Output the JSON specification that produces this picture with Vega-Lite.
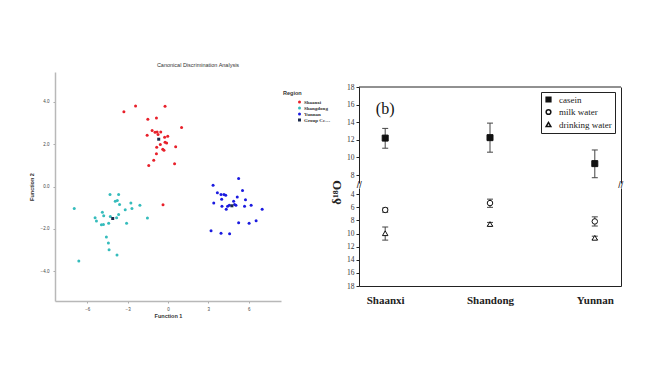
{
  "$schema": "https://vega.github.io/schema/vega-lite/v6.json",
  "background": "white",
  "padding": {"left": 29, "top": 62, "right": 0, "bottom": 0},
  "config": {"view": {"stroke": null}},
  "datasets": {
    "scatter": [
      {"region": "Shaanxi", "f1": -3.28, "f2": 3.53},
      {"region": "Shaanxi", "f1": -2.41, "f2": 3.80},
      {"region": "Shaanxi", "f1": -0.22, "f2": 3.78},
      {"region": "Shaanxi", "f1": -1.50, "f2": 3.17},
      {"region": "Shaanxi", "f1": -0.86, "f2": 3.23},
      {"region": "Shaanxi", "f1": 1.01, "f2": 2.78},
      {"region": "Shaanxi", "f1": -1.18, "f2": 2.64},
      {"region": "Shaanxi", "f1": -0.96, "f2": 2.56},
      {"region": "Shaanxi", "f1": -0.81, "f2": 2.57},
      {"region": "Shaanxi", "f1": -0.54, "f2": 2.57},
      {"region": "Shaanxi", "f1": -1.55, "f2": 2.42},
      {"region": "Shaanxi", "f1": -0.02, "f2": 2.37},
      {"region": "Shaanxi", "f1": -0.25, "f2": 2.32},
      {"region": "Shaanxi", "f1": -0.74, "f2": 2.45},
      {"region": "Shaanxi", "f1": -0.22, "f2": 2.09},
      {"region": "Shaanxi", "f1": -0.10, "f2": 2.05},
      {"region": "Shaanxi", "f1": -0.84, "f2": 1.85},
      {"region": "Shaanxi", "f1": -0.57, "f2": 1.98},
      {"region": "Shaanxi", "f1": -0.39, "f2": 1.76},
      {"region": "Shaanxi", "f1": -0.30, "f2": 1.71},
      {"region": "Shaanxi", "f1": 0.57, "f2": 1.87},
      {"region": "Shaanxi", "f1": -0.86, "f2": 1.54},
      {"region": "Shaanxi", "f1": -1.06, "f2": 1.24},
      {"region": "Shaanxi", "f1": -1.43, "f2": 0.99},
      {"region": "Shaanxi", "f1": 0.49, "f2": 1.07},
      {"region": "Shaanxi", "f1": -0.37, "f2": -0.86},
      {"region": "Shangdong", "f1": -6.97, "f2": -1.04},
      {"region": "Shangdong", "f1": -6.63, "f2": -3.51},
      {"region": "Shangdong", "f1": -5.42, "f2": -1.47},
      {"region": "Shangdong", "f1": -5.32, "f2": -1.63},
      {"region": "Shangdong", "f1": -4.88, "f2": -1.22},
      {"region": "Shangdong", "f1": -4.78, "f2": -1.38},
      {"region": "Shangdong", "f1": -4.95, "f2": -1.80},
      {"region": "Shangdong", "f1": -4.80, "f2": -1.79},
      {"region": "Shangdong", "f1": -4.58, "f2": -2.38},
      {"region": "Shangdong", "f1": -4.43, "f2": -2.67},
      {"region": "Shangdong", "f1": -4.38, "f2": -2.98},
      {"region": "Shangdong", "f1": -4.41, "f2": -1.73},
      {"region": "Shangdong", "f1": -4.29, "f2": -1.41},
      {"region": "Shangdong", "f1": -4.31, "f2": -0.38},
      {"region": "Shangdong", "f1": -3.92, "f2": -0.69},
      {"region": "Shangdong", "f1": -3.77, "f2": -0.66},
      {"region": "Shangdong", "f1": -3.67, "f2": -0.38},
      {"region": "Shangdong", "f1": -3.60, "f2": -0.85},
      {"region": "Shangdong", "f1": -3.79, "f2": -3.23},
      {"region": "Shangdong", "f1": -3.82, "f2": -1.47},
      {"region": "Shangdong", "f1": -3.67, "f2": -1.32},
      {"region": "Shangdong", "f1": -3.18, "f2": -1.10},
      {"region": "Shangdong", "f1": -3.08, "f2": -1.73},
      {"region": "Shangdong", "f1": -2.76, "f2": -0.78},
      {"region": "Shangdong", "f1": -2.68, "f2": -1.04},
      {"region": "Shangdong", "f1": -2.09, "f2": -0.89},
      {"region": "Shangdong", "f1": -1.53, "f2": -1.49},
      {"region": "Yunnan", "f1": 3.35, "f2": 0.06},
      {"region": "Yunnan", "f1": 3.67, "f2": -0.30},
      {"region": "Yunnan", "f1": 3.94, "f2": -0.38},
      {"region": "Yunnan", "f1": 4.16, "f2": -0.38},
      {"region": "Yunnan", "f1": 4.29, "f2": -0.41},
      {"region": "Yunnan", "f1": 5.25, "f2": 0.38},
      {"region": "Yunnan", "f1": 5.54, "f2": -0.19},
      {"region": "Yunnan", "f1": 5.76, "f2": -0.63},
      {"region": "Yunnan", "f1": 5.15, "f2": -0.50},
      {"region": "Yunnan", "f1": 4.88, "f2": -0.69},
      {"region": "Yunnan", "f1": 3.99, "f2": -0.60},
      {"region": "Yunnan", "f1": 3.40, "f2": -0.78},
      {"region": "Yunnan", "f1": 4.01, "f2": -0.93},
      {"region": "Yunnan", "f1": 4.33, "f2": -1.07},
      {"region": "Yunnan", "f1": 4.43, "f2": -0.93},
      {"region": "Yunnan", "f1": 4.56, "f2": -0.88},
      {"region": "Yunnan", "f1": 4.95, "f2": -0.85},
      {"region": "Yunnan", "f1": 5.05, "f2": -0.88},
      {"region": "Yunnan", "f1": 5.69, "f2": -0.93},
      {"region": "Yunnan", "f1": 6.18, "f2": -0.89},
      {"region": "Yunnan", "f1": 7.00, "f2": -1.07},
      {"region": "Yunnan", "f1": 6.55, "f2": -1.62},
      {"region": "Yunnan", "f1": 6.03, "f2": -1.73},
      {"region": "Yunnan", "f1": 5.25, "f2": -1.71},
      {"region": "Yunnan", "f1": 3.20, "f2": -2.09},
      {"region": "Yunnan", "f1": 3.94, "f2": -2.20},
      {"region": "Yunnan", "f1": 4.58, "f2": -2.23},
      {"region": "Group Centroid", "f1": -0.69, "f2": 2.23},
      {"region": "Group Centroid", "f1": -4.11, "f2": -1.51},
      {"region": "Group Centroid", "f1": 4.75, "f2": -0.91}
    ],
    "casein": [
      {"region": "Shaanxi", "series": "casein", "mean": 12.2, "lo": 11.05, "hi": 13.3},
      {"region": "Shandong", "series": "casein", "mean": 12.25, "lo": 10.6, "hi": 13.9},
      {"region": "Yunnan", "series": "casein", "mean": 9.3, "lo": 7.7, "hi": 10.85}
    ],
    "water": [
      {"region": "Shaanxi", "series": "milk water", "mean": -6.4, "lo": -6.75, "hi": -6.1},
      {"region": "Shaanxi", "series": "drinking water", "mean": -9.95, "lo": -11.0, "hi": -9.0},
      {"region": "Shandong", "series": "milk water", "mean": -5.35, "lo": -6.0, "hi": -4.75},
      {"region": "Shandong", "series": "drinking water", "mean": -8.55, "lo": -8.8, "hi": -8.3},
      {"region": "Yunnan", "series": "milk water", "mean": -8.15, "lo": -8.85, "hi": -7.45},
      {"region": "Yunnan", "series": "drinking water", "mean": -10.65, "lo": -10.9, "hi": -10.4}
    ]
  },
  "bounds": "flush",
  "center": true,
  "spacing": 78,
  "hconcat": [
    {
      "width": 226,
      "height": 229,
      "title": {"text": "Canonical Discrimination Analysis", "font": "Liberation Sans", "fontSize": 5.5, "fontWeight": "normal", "color": "#333", "offset": 4, "dx": 30},
      "data": {"name": "scatter"},
      "mark": {"type": "point", "filled": true, "opacity": 1},
      "encoding": {
        "x": {"field": "f1", "type": "quantitative",
          "scale": {"domain": [-8.4, 8.4], "nice": false, "zero": false},
          "axis": {"values": [-6, -3, 0, 3, 6], "format": "d", "title": "Function 1", "grid": false,
            "domainColor": "#b8b8b8", "domainWidth": 1.5, "tickColor": "#aaa", "tickSize": 2,
            "labelFont": "Liberation Sans", "labelFontSize": 4.5, "labelColor": "#444", "labelPadding": 3,
            "titleFont": "Liberation Sans", "titleFontSize": 5.5, "titleFontWeight": "bold", "titleColor": "#333", "titlePadding": 3}},
        "y": {"field": "f2", "type": "quantitative",
          "scale": {"domain": [-5.4, 5.4], "nice": false, "zero": false},
          "axis": {"values": [-4, -2, 0, 2, 4], "format": ".1f", "title": "Function 2", "grid": false,
            "domainColor": "#b8b8b8", "domainWidth": 1.5, "tickColor": "#aaa", "tickSize": 2,
            "labelFont": "Liberation Sans", "labelFontSize": 4.5, "labelColor": "#444", "labelPadding": 4,
            "titleFont": "Liberation Sans", "titleFontSize": 5.5, "titleFontWeight": "bold", "titleColor": "#333", "titlePadding": 6}},
        "color": {"field": "region", "type": "nominal",
          "scale": {"domain": ["Shaanxi", "Shangdong", "Yunnan", "Group Centroid"], "range": ["#e8202a", "#35bcbc", "#1a1ae0", "#1c2a4a"]},
          "legend": {"title": "Region", "orient": "none", "legendX": 228, "legendY": 19, "symbolOffset": 14,
            "titleFont": "Liberation Sans", "titleFontSize": 5.5, "titleFontWeight": "bold", "titleColor": "#333", "titlePadding": 3,
            "labelFont": "Liberation Serif", "labelFontSize": 5, "labelFontWeight": "bold", "labelColor": "#333", "labelOffset": 2, "labelLimit": 28,
            "rowPadding": 0, "padding": 0}},
        "shape": {"field": "region", "type": "nominal",
          "scale": {"domain": ["Shaanxi", "Shangdong", "Yunnan", "Group Centroid"], "range": ["circle", "circle", "circle", "square"]},
          "legend": {"title": "Region"}},
        "size": {"field": "region", "type": "nominal",
          "scale": {"domain": ["Shaanxi", "Shangdong", "Yunnan", "Group Centroid"], "range": [9, 9, 9, 20]},
          "legend": {"title": "Region"}}
      }
    },
    {
      "width": 262,
      "height": 199,
      "layer": [
        {
          "data": {"name": "casein"},
          "encoding": {
            "y": {"field": "mean", "type": "quantitative",
              "scale": {"domain": [7.1, 18], "range": [96, 0], "nice": false, "zero": false},
              "axis": {"orient": "left", "values": [8, 10, 12, 14, 16, 18], "grid": false, "title": "δ¹⁸O", "labelOverlap": false, "labelFlush": false,
                "titleFont": "Liberation Serif", "titleFontSize": 13, "titleFontWeight": "bold", "titleColor": "#222", "titleY": 105, "titlePadding": 3,
                "labelFont": "Liberation Serif", "labelFontSize": 7.5, "labelColor": "#333", "labelPadding": 2,
                "tickSize": 3, "tickColor": "#222", "domainColor": "#222"}}
          },
          "layer": [
            {
              "mark": {"type": "rule", "color": "#444", "strokeWidth": 1},
              "encoding": {
                "x": {"field": "region", "type": "nominal", "scale": {"type": "point", "padding": 0.25, "domain": ["Shaanxi", "Shandong", "Yunnan"]},
                  "axis": {"orient": "bottom", "labelAngle": 0, "labelAlign": "center", "ticks": false, "title": null, "domainColor": "#222", "labelFont": "Liberation Serif", "labelFontSize": 11, "labelFontWeight": "bold", "labelColor": "#222", "labelPadding": 8}},
                "y": {"field": "lo", "type": "quantitative"},
                "y2": {"field": "hi"}
              }
            },
            {
              "mark": {"type": "tick", "orient": "horizontal", "size": 6, "thickness": 1, "color": "#444", "opacity": 1},
              "encoding": {
                "x": {"field": "region", "type": "nominal", "scale": {"type": "point", "padding": 0.25, "domain": ["Shaanxi", "Shandong", "Yunnan"]},
                  "axis": {"orient": "bottom", "labelAngle": 0, "labelAlign": "center", "ticks": false, "title": null, "domainColor": "#222", "labelFont": "Liberation Serif", "labelFontSize": 11, "labelFontWeight": "bold", "labelColor": "#222", "labelPadding": 8}},
                "y": {"field": "lo", "type": "quantitative"}
              }
            },
            {
              "mark": {"type": "tick", "orient": "horizontal", "size": 6, "thickness": 1, "color": "#444", "opacity": 1},
              "encoding": {
                "x": {"field": "region", "type": "nominal", "scale": {"type": "point", "padding": 0.25, "domain": ["Shaanxi", "Shandong", "Yunnan"]},
                  "axis": {"orient": "bottom", "labelAngle": 0, "labelAlign": "center", "ticks": false, "title": null, "domainColor": "#222", "labelFont": "Liberation Serif", "labelFontSize": 11, "labelFontWeight": "bold", "labelColor": "#222", "labelPadding": 8}},
                "y": {"field": "hi", "type": "quantitative"}
              }
            },
            {
              "mark": {"type": "point", "strokeWidth": 1, "size": 36, "opacity": 1},
              "encoding": {
                "x": {"field": "region", "type": "nominal", "scale": {"type": "point", "padding": 0.25, "domain": ["Shaanxi", "Shandong", "Yunnan"]},
                  "axis": {"orient": "bottom", "labelAngle": 0, "labelAlign": "center", "ticks": false, "title": null, "domainColor": "#222", "labelFont": "Liberation Serif", "labelFontSize": 11, "labelFontWeight": "bold", "labelColor": "#222", "labelPadding": 8}},
                "shape": {"field": "series", "type": "nominal",
                  "scale": {"domain": ["casein", "milk water", "drinking water"], "range": ["square", "circle", "triangle-up"]},
                  "legend": {"title": null, "orient": "none", "legendX": 182, "legendY": 5, "strokeColor": "#222", "padding": 3, "fillColor": "white",
                    "labelFont": "Liberation Serif", "labelFontSize": 9, "labelColor": "#222", "symbolSize": 22, "rowPadding": 1.5, "labelOffset": 6}},
                "fill": {"field": "series", "type": "nominal",
                  "scale": {"domain": ["casein", "milk water", "drinking water"], "range": ["#111", "white", "white"]},
                  "legend": {"title": null, "orient": "none", "legendX": 182, "legendY": 5}},
                "stroke": {"field": "series", "type": "nominal",
                  "scale": {"domain": ["casein", "milk water", "drinking water"], "range": ["#111", "#111", "#111"]},
                  "legend": {"title": null, "orient": "none", "legendX": 182, "legendY": 5}}
              }
            }
          ]
        },
        {
          "data": {"name": "water"},
          "encoding": {
            "y": {"field": "mean", "type": "quantitative",
              "scale": {"domain": [-18, -3.05], "range": [199, 101], "nice": false, "zero": false},
              "axis": {"orient": "left", "values": [-4, -6, -8, -10, -12, -14, -16, -18], "labelExpr": "abs(datum.value)", "grid": false, "title": null, "labelOverlap": false, "labelFlush": false,
                "labelFont": "Liberation Serif", "labelFontSize": 7.5, "labelColor": "#333", "labelPadding": 2,
                "tickSize": 3, "tickColor": "#222", "domainColor": "#222"}}
          },
          "layer": [
            {
              "mark": {"type": "rule", "color": "#444", "strokeWidth": 1},
              "encoding": {
                "x": {"field": "region", "type": "nominal", "scale": {"type": "point", "padding": 0.25, "domain": ["Shaanxi", "Shandong", "Yunnan"]},
                  "axis": {"orient": "bottom", "labelAngle": 0, "labelAlign": "center", "ticks": false, "title": null, "domainColor": "#222", "labelFont": "Liberation Serif", "labelFontSize": 11, "labelFontWeight": "bold", "labelColor": "#222", "labelPadding": 8}},
                "y": {"field": "lo", "type": "quantitative"},
                "y2": {"field": "hi"}
              }
            },
            {
              "mark": {"type": "tick", "orient": "horizontal", "size": 6, "thickness": 1, "color": "#444", "opacity": 1},
              "encoding": {
                "x": {"field": "region", "type": "nominal", "scale": {"type": "point", "padding": 0.25, "domain": ["Shaanxi", "Shandong", "Yunnan"]},
                  "axis": {"orient": "bottom", "labelAngle": 0, "labelAlign": "center", "ticks": false, "title": null, "domainColor": "#222", "labelFont": "Liberation Serif", "labelFontSize": 11, "labelFontWeight": "bold", "labelColor": "#222", "labelPadding": 8}},
                "y": {"field": "lo", "type": "quantitative"}
              }
            },
            {
              "mark": {"type": "tick", "orient": "horizontal", "size": 6, "thickness": 1, "color": "#444", "opacity": 1},
              "encoding": {
                "x": {"field": "region", "type": "nominal", "scale": {"type": "point", "padding": 0.25, "domain": ["Shaanxi", "Shandong", "Yunnan"]},
                  "axis": {"orient": "bottom", "labelAngle": 0, "labelAlign": "center", "ticks": false, "title": null, "domainColor": "#222", "labelFont": "Liberation Serif", "labelFontSize": 11, "labelFontWeight": "bold", "labelColor": "#222", "labelPadding": 8}},
                "y": {"field": "hi", "type": "quantitative"}
              }
            },
            {
              "mark": {"type": "point", "strokeWidth": 1, "size": 30, "opacity": 1},
              "encoding": {
                "x": {"field": "region", "type": "nominal", "scale": {"type": "point", "padding": 0.25, "domain": ["Shaanxi", "Shandong", "Yunnan"]},
                  "axis": {"orient": "bottom", "labelAngle": 0, "labelAlign": "center", "ticks": false, "title": null, "domainColor": "#222", "labelFont": "Liberation Serif", "labelFontSize": 11, "labelFontWeight": "bold", "labelColor": "#222", "labelPadding": 8}},
                "shape": {"field": "series", "type": "nominal", "legend": {"title": null, "orient": "none", "legendX": 182, "legendY": 5}},
                "fill": {"field": "series", "type": "nominal", "legend": {"title": null, "orient": "none", "legendX": 182, "legendY": 5}},
                "stroke": {"field": "series", "type": "nominal", "legend": {"title": null, "orient": "none", "legendX": 182, "legendY": 5}}
              }
            }
          ]
        },
        {
          "data": {"name": "casein"},
          "mark": {"type": "point", "opacity": 0},
          "encoding": {
            "x": {"field": "region", "type": "nominal", "scale": {"type": "point", "padding": 0.25, "domain": ["Shaanxi", "Shandong", "Yunnan"]},
              "axis": {"orient": "bottom", "labelAngle": 0, "labelAlign": "center", "ticks": false, "title": null, "domainColor": "#222", "labelFont": "Liberation Serif", "labelFontSize": 11, "labelFontWeight": "bold", "labelColor": "#222", "labelPadding": 8}},
            "y": {"field": "mean", "type": "quantitative",
              "scale": {"domain": [7.1, 18], "range": [96, 0], "nice": false, "zero": false},
              "axis": {"orient": "right", "labels": false, "ticks": false, "title": null, "grid": false, "domainColor": "#222"}}
          }
        },
        {
          "data": {"name": "water"},
          "mark": {"type": "point", "opacity": 0},
          "encoding": {
            "x": {"field": "region", "type": "nominal", "scale": {"type": "point", "padding": 0.25, "domain": ["Shaanxi", "Shandong", "Yunnan"]},
              "axis": {"orient": "bottom", "labelAngle": 0, "labelAlign": "center", "ticks": false, "title": null, "domainColor": "#222", "labelFont": "Liberation Serif", "labelFontSize": 11, "labelFontWeight": "bold", "labelColor": "#222", "labelPadding": 8}},
            "y": {"field": "mean", "type": "quantitative",
              "scale": {"domain": [-18, -3.05], "range": [199, 101], "nice": false, "zero": false},
              "axis": {"orient": "right", "labels": false, "ticks": false, "title": null, "grid": false, "domainColor": "#222"}}
          }
        },
        {
          "data": {"values": [{}]},
          "mark": {"type": "text", "font": "Liberation Serif", "fontSize": 16, "color": "#111"},
          "encoding": {
            "x": {"datum": "Shaanxi"},
            "y": {"datum": 15.5, "scale": {"domain": [7.1, 18], "range": [96, 0], "nice": false, "zero": false}, "axis": null},
            "text": {"value": "(b)"}
          }
        },
        {
          "data": {"values": [{}]},
          "mark": {"type": "rule", "color": "#222", "strokeWidth": 1},
          "encoding": {
            "y": {"datum": 18, "scale": {"domain": [7.1, 18], "range": [96, 0], "nice": false, "zero": false}, "axis": null}
          }
        },
        {
          "data": {"values": [{}]},
          "mark": {"type": "text", "font": "Liberation Sans", "fontSize": 9, "color": "#111", "dx": -26, "baseline": "middle", "dy": -3},
          "encoding": {
            "x": {"datum": "Shaanxi"},
            "y": {"datum": -3.05, "scale": {"domain": [-18, -3.05], "range": [199, 101], "nice": false, "zero": false}, "axis": null},
            "text": {"value": "//"}
          }
        },
        {
          "data": {"values": [{}]},
          "mark": {"type": "text", "font": "Liberation Sans", "fontSize": 9, "color": "#111", "dx": 26, "baseline": "middle", "dy": -3},
          "encoding": {
            "x": {"datum": "Yunnan"},
            "y": {"datum": -3.05, "scale": {"domain": [-18, -3.05], "range": [199, 101], "nice": false, "zero": false}, "axis": null},
            "text": {"value": "//"}
          }
        }
      ],
      "resolve": {"scale": {"y": "independent"}}
    }
  ],
  "resolve": {"scale": {"color": "independent", "shape": "independent", "size": "independent", "fill": "independent", "stroke": "independent", "x": "independent", "y": "independent"}, "legend": {"color": "independent", "shape": "independent", "size": "independent", "fill": "independent", "stroke": "independent"}}
}
